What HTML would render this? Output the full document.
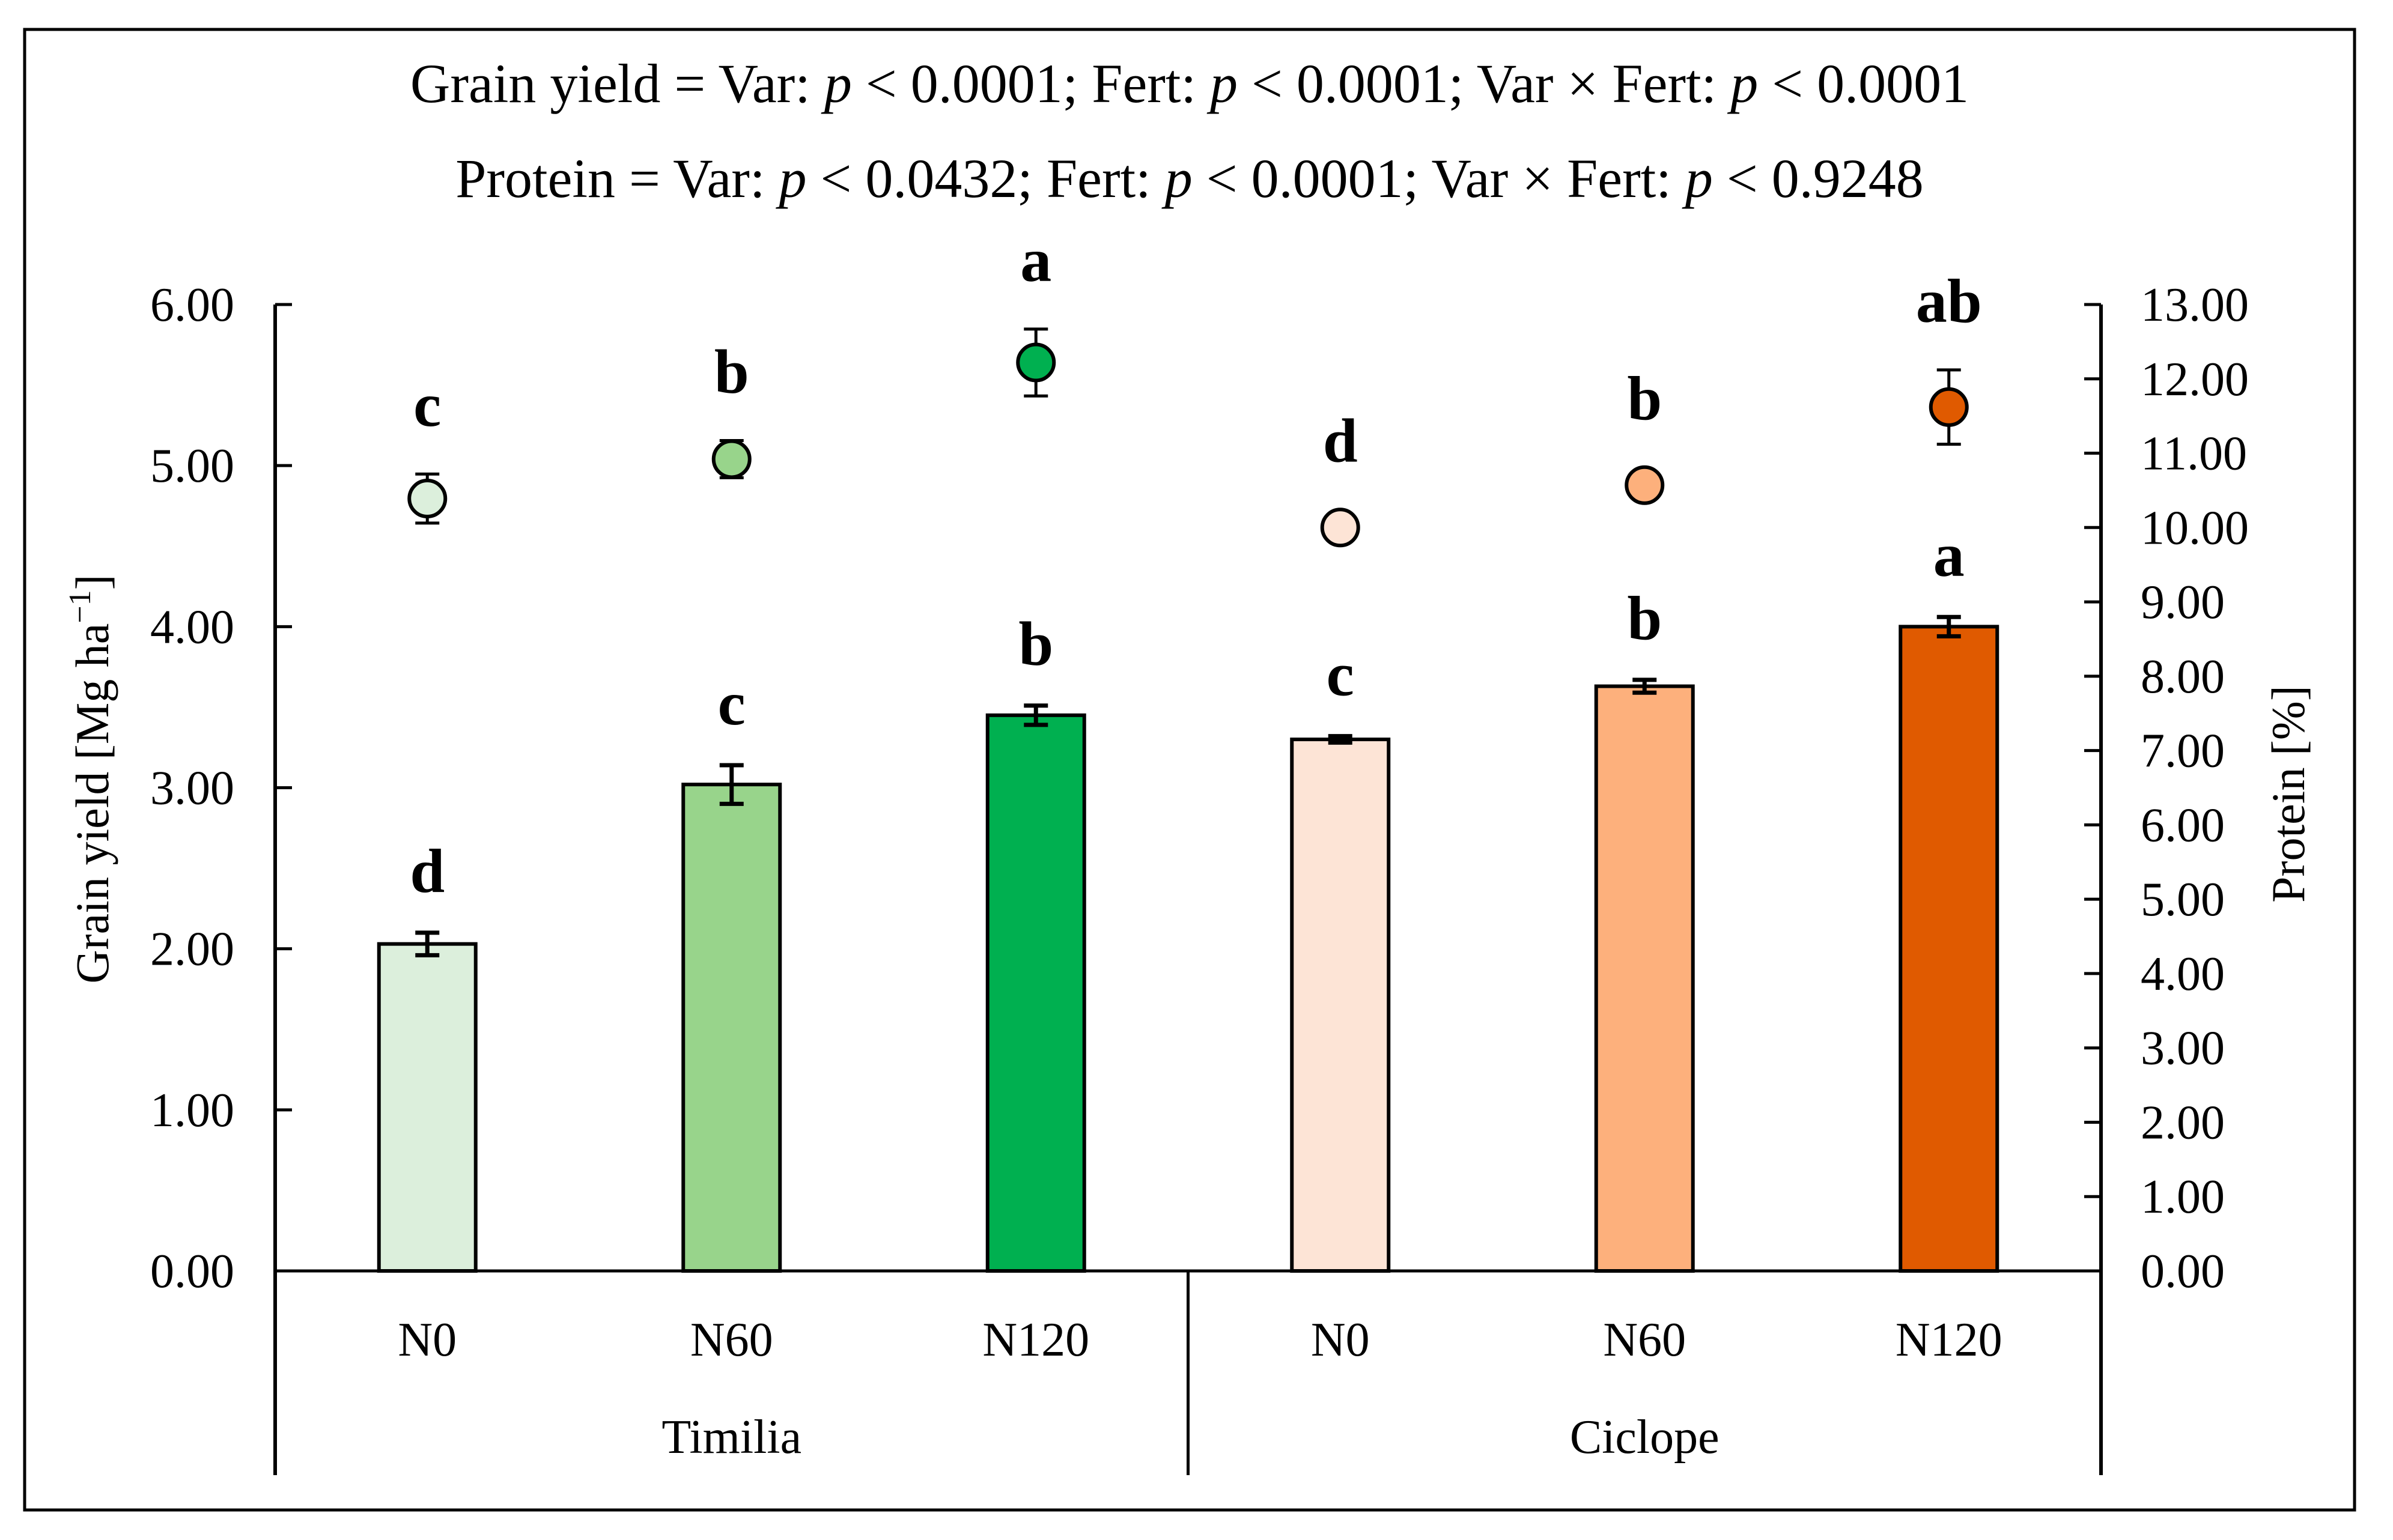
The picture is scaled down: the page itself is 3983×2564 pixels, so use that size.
<!DOCTYPE html>
<html><head><meta charset="utf-8"><style>
html,body{margin:0;padding:0;background:#fff}
svg{display:block}
text{font-family:"Liberation Serif",serif;fill:#000}
</style></head><body>
<svg id="chart" width="3983" height="2564" viewBox="0 0 3983 2564" xmlns="http://www.w3.org/2000/svg">
<rect x="41" y="49" width="3878" height="2465" fill="#fff" stroke="#000" stroke-width="5"/>
<text x="1980" y="170" font-size="92" text-anchor="middle">Grain yield = Var: <tspan font-style="italic">p</tspan> &lt; 0.0001; Fert: <tspan font-style="italic">p</tspan> &lt; 0.0001; Var × Fert: <tspan font-style="italic">p</tspan> &lt; 0.0001</text>
<text x="1980" y="328" font-size="92" text-anchor="middle">Protein = Var: <tspan font-style="italic">p</tspan> &lt; 0.0432; Fert: <tspan font-style="italic">p</tspan> &lt; 0.0001; Var × Fert: <tspan font-style="italic">p</tspan> &lt; 0.9248</text>
<text transform="translate(180,1297) rotate(-90)" font-size="78" text-anchor="middle">Grain yield [Mg ha<tspan dy="-30" font-size="52">−1</tspan><tspan dy="30">]</tspan></text>
<text transform="translate(3835,1322) rotate(-90)" font-size="78" text-anchor="middle">Protein [%]</text>
<g id="plot"></g>
</svg>
<script>
const categories = ["N0","N60","N120","N0","N60","N120"];
const groups = ["Timilia","Ciclope"];
const yieldValues = [2.03, 3.02, 3.45, 3.30, 3.63, 4.00];
const yieldErrors = [0.07, 0.12, 0.06, 0.02, 0.04, 0.06];
const yieldLetters = ["d","c","b","c","b","a"];
const proteinValues = [10.39, 10.92, 12.22, 10.00, 10.57, 11.62];
const proteinErrors = [0.33, 0.25, 0.45, 0.05, 0.05, 0.50];
const proteinLetters = ["c","b","a","d","b","ab"];
const leftTicks = [0,1,2,3,4,5,6];
const rightTicks = [0,1,2,3,4,5,6,7,8,9,10,11,12,13];
const colors = ["#dcefdc","#98d48b","#00b050","#fde4d6","#fdb07c","#e05a00"];

const NS = "http://www.w3.org/2000/svg";
const g = document.getElementById("plot");
const X0 = 458, X1 = 3497, Y0 = 2116, YT = 507, YB = 2456;
const band = (X1 - X0) / categories.length;
const xc = i => X0 + band * (i + 0.5);
const yL = v => Y0 - (v / 6) * (Y0 - YT);
const yR = v => Y0 - (v / 13) * (Y0 - YT);
function el(tag, attrs, parent) {
  const e = document.createElementNS(NS, tag);
  for (const k in attrs) e.setAttribute(k, attrs[k]);
  (parent || g).appendChild(e);
  return e;
}
let a = el("line", {x1:X0, y1:YT, x2:X0, y2:YB, stroke:"#000", "stroke-width":6});


a = el("line", {x1:X1, y1:YT, x2:X1, y2:YB, stroke:"#000", "stroke-width":6});


a = el("line", {x1:(X0+X1)/2, y1:Y0, x2:(X0+X1)/2, y2:YB, stroke:"#000", "stroke-width":5});


leftTicks.forEach(t => {
  const tk = el("line", {x1:X0, y1:yL(t), x2:X0+28, y2:yL(t), stroke:"#000", "stroke-width":5});
  
  
  const tx = el("text", {x:X0-68, y:yL(t)+27, "font-size":80, "text-anchor":"end"});
  tx.textContent = t.toFixed(2);
  
  
});
rightTicks.forEach(t => {
  const tk = el("line", {x1:X1-28, y1:yR(t), x2:X1, y2:yR(t), stroke:"#000", "stroke-width":5});
  
  
  const tx = el("text", {x:3563, y:yR(t)+27, "font-size":80, "text-anchor":"start"});
  tx.textContent = t.toFixed(2);
  
  
});
const bw = 161;
categories.forEach((c, i) => {
  const x = xc(i);
  const b = el("rect", {x:x-bw/2, y:yL(yieldValues[i]), width:bw, height:Y0-yL(yieldValues[i]), fill:colors[i], stroke:"#000", "stroke-width":6});
  
  
  const et = yL(yieldValues[i]+yieldErrors[i]), eb = yL(yieldValues[i]-yieldErrors[i]);
  const eg = el("path", {d:`M${x},${et}V${eb}M${x-20},${et}H${x+20}M${x-20},${eb}H${x+20}`, stroke:"#000", "stroke-width":7, fill:"none"});
  
  
  const lt = el("text", {x:x, y:et-68, "font-size":104, "font-weight":"bold", "text-anchor":"middle"});
  lt.textContent = yieldLetters[i];
  
  
  const py = yR(proteinValues[i]);
  const pt = yR(proteinValues[i]+proteinErrors[i]), pb = yR(proteinValues[i]-proteinErrors[i]);
  const pe = el("path", {d:`M${x},${pt}V${pb}M${x-20},${pt}H${x+20}M${x-20},${pb}H${x+20}`, stroke:"#000", "stroke-width":5, fill:"none"});
  
  
  const pm = el("circle", {cx:x, cy:py, r:30, fill:colors[i], stroke:"#000", "stroke-width":6});
  
  
  const pl = el("text", {x:x, y:Math.min(pt, py-30)-80, "font-size":104, "font-weight":"bold", "text-anchor":"middle"});
  pl.textContent = proteinLetters[i];
  
  
  const cl = el("text", {x:x, y:2257, "font-size":80, "text-anchor":"middle"});
  cl.textContent = c;
  
  
});
a = el("line", {x1:X0, y1:Y0, x2:X1, y2:Y0, stroke:"#000", "stroke-width":5});


groups.forEach((gr, j) => {
  const t = el("text", {x:X0 + (X1-X0)/4*(2*j+1), y:2419, "font-size":80, "text-anchor":"middle"});
  t.textContent = gr;
  
  
});
</script>
</body></html>
